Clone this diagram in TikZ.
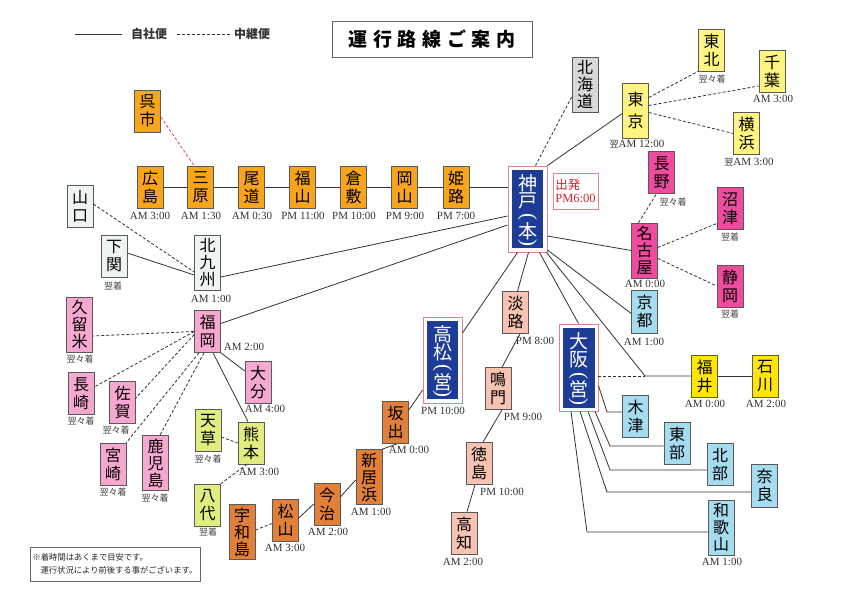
\documentclass[tikz,border=0pt]{standalone}
\usepackage{fontspec}
\usepackage{graphicx}
\setmainfont{Liberation Serif}
\newfontfamily\jp{Noto Sans CJK JP}
\newfontfamily\jpt{Noto Sans CJK JP}[LetterSpace=30]
\usetikzlibrary{calc}
\definecolor{cOr}{HTML}{F8A51C}
\definecolor{cSk}{HTML}{E2803A}
\definecolor{cSa}{HTML}{F7C4B3}
\definecolor{cPk}{HTML}{F7A8D0}
\definecolor{cYg}{HTML}{E3EC7E}
\definecolor{cYl}{HTML}{FDF57F}
\definecolor{cMg}{HTML}{EE4C9E}
\definecolor{cBl}{HTML}{A6DCEF}
\definecolor{cFy}{HTML}{FFE600}
\definecolor{cGr}{HTML}{D8D8D8}
\definecolor{cLt}{HTML}{EEF3F4}
\definecolor{cNv}{HTML}{1D3C96}
\definecolor{cKb}{HTML}{D9868F}
\definecolor{cRd}{HTML}{D0232B}
\newcommand{\vopen}{\rotatebox[origin=c]{-90}{(}}
\newcommand{\vclose}{\rotatebox[origin=c]{-90}{)}}
\newcommand{\yoku}{{\jp\fontsize{9}{9}\selectfont 翌}}
\newcommand{\officetext}[3]{%
  \node[kt] (#1-a) at ($(#1)+(0,-26)$) {#2};
  \node[kt] (#1-b) at ($(#1)+(0,-8)$) {#3};
  \node[kp] (#1-c) at ($(#1)+(0,8)$) {\vopen};
  \node[kt] (#1-d) at ($(#1)+(0,22)$) {#3@};
}
\begin{document}
\begin{tikzpicture}[x=1pt,y=-1pt,
  stn/.style={draw=black!65, line width=0.6pt, minimum width=26pt, minimum height=42pt, inner sep=0pt, align=center, font=\jp\fontsize{16}{18}\selectfont},
  st3/.style={stn, minimum height=55pt, font=\jp\fontsize{16}{17}\selectfont},
  tm/.style={font=\fontsize{11}{11}\selectfont, text=black!80, inner sep=0pt},
  ar/.style={font=\jp\fontsize{9}{9}\selectfont, text=black!75, inner sep=0pt},
  own/.style={draw=black!80, line width=0.8pt},
  relay/.style={own, dash pattern=on 3pt off 2pt},
  kbo/.style={draw=cKb, fill=white, line width=0.9pt, minimum width=39pt, minimum height=86pt, inner sep=0pt},
  kbi/.style={fill=cNv, minimum width=31pt, minimum height=78pt, inner sep=0pt},
  kt/.style={text=white, inner sep=0pt, font=\jp\fontsize{19}{19}\selectfont},
  kp/.style={text=white, inner sep=0pt, font=\fontsize{21}{21}\selectfont}
]
\useasboundingbox (0,0) rectangle (843,596);
\fill[white] (0,0) rectangle (843,596);

% legend and title
\coordinate (la) at (75,34); \coordinate (lb) at (122,34);
\coordinate (lc) at (177,34); \coordinate (ld) at (230,34);
\draw[own] (la) -- (lb);
\draw[relay] (lc) -- (ld);
\node[font=\jp\bfseries\fontsize{12}{12}\selectfont, text=black!80, inner sep=0pt] (lgo) at (149,34) {自社便};
\node[font=\jp\bfseries\fontsize{12}{12}\selectfont, text=black!80, inner sep=0pt] (lgr) at (252,34) {中継便};
\node[draw=black!60, line width=0.8pt, minimum width=200pt, minimum height=36pt, inner sep=0pt, font=\jpt\bfseries\fontsize{19}{19}\selectfont] (title) at (432,39) {運行路線ご案内};

% Kobe
\node[kbo] (kobe) at (527.5,209) {};
\node[kbi] (kobein) at (kobe) {};
\node[kt] (kobe-a) at ($(kobe)+(0,-26)$) {神};
\node[kt] (kobe-b) at ($(kobe)+(0,-8)$) {戸};
\node[kp] (kobe-c) at ($(kobe)+(0,9)$) {\vopen};
\node[kt] (kobe-d) at ($(kobe)+(0,22)$) {本};
\node[kp] (kobe-e) at ($(kobe)+(0,35)$) {\vclose};
\node[draw=cKb, line width=0.7pt, minimum width=45pt, minimum height=36pt, inner sep=2pt, align=left, text=cRd, font=\fontsize{12.5}{13}\selectfont] (dep) at (575.5,191) {{\jp 出発}\\PM6:00};

% Chugoku
\node[stn, fill=cOr] (hiroshima) at (150,187.5) {広\\島};
\node[stn, fill=cOr] (mihara) at (200.5,187.5) {三\\原};
\node[stn, fill=cOr] (onomichi) at (251.5,187.5) {尾\\道};
\node[stn, fill=cOr] (fukuyama) at (302.5,187.5) {福\\山};
\node[stn, fill=cOr] (kurashiki) at (353.5,187.5) {倉\\敷};
\node[stn, fill=cOr] (okayama) at (404.5,187.5) {岡\\山};
\node[stn, fill=cOr] (himeji) at (456,187.5) {姫\\路};
\node[stn, fill=cOr] (kure) at (147.5,111) {呉\\市};
\node[tm] (thiroshima) at (150,216) {AM 3:00};
\node[tm] (tmihara) at (201,216) {AM 1:30};
\node[tm] (tonomichi) at (252,216) {AM 0:30};
\node[tm] (tfukuyama) at (303,216) {PM 11:00};
\node[tm] (tkurashiki) at (354,216) {PM 10:00};
\node[tm] (tokayama) at (405,216) {PM 9:00};
\node[tm] (thimeji) at (456,216) {PM 7:00};

% East
\node[st3, fill=cGr] (hokkaido) at (585,85) {北\\海\\道};
\node[stn, fill=cYl, minimum height=55pt, font=\jp\fontsize{16}{22}\selectfont] (tokyo) at (635.5,110.5) {東\\京};
\node[stn, fill=cYl] (tohoku) at (711.5,50) {東\\北};
\node[stn, fill=cYl] (chiba) at (772,71.5) {千\\葉};
\node[stn, fill=cYl] (yokohama) at (746.5,133.5) {横\\浜};
\node[tm] (ttokyo) at (637,144) {\yoku AM 12:00};
\node[ar] (ttohoku) at (712,79) {翌々着};
\node[tm] (tchiba) at (773,99) {AM 3:00};
\node[tm] (tyokohama) at (749,162) {\yoku AM 3:00};

\node[stn, fill=cMg] (nagano) at (661.5,172.5) {長\\野};
\node[st3, fill=cMg] (nagoya) at (644.5,250.5) {名\\古\\屋};
\node[stn, fill=cMg] (numazu) at (730,208.5) {沼\\津};
\node[stn, fill=cMg] (shizuoka) at (730,286) {静\\岡};
\node[ar] (tnagano) at (673,202) {翌々着};
\node[tm] (tnagoya) at (645,284) {AM 0:00};
\node[ar] (tnumazu) at (730,237) {翌着};
\node[ar] (tshizuoka) at (730,314) {翌着};

\node[stn, fill=cBl, minimum height=43pt] (kyoto) at (644.5,311.5) {京\\都};
\node[tm] (tkyoto) at (644,342) {AM 1:00};

% Osaka
\node[kbo, minimum height=87pt] (osaka) at (578.5,367.5) {};
\node[kbi, minimum width=32pt, minimum height=80pt] (osakain) at (osaka) {};
\node[kt] (osaka-a) at ($(osaka)+(0,-26)$) {大};
\node[kt] (osaka-b) at ($(osaka)+(0,-8)$) {阪};
\node[kp] (osaka-c) at ($(osaka)+(0,9)$) {\vopen};
\node[kt] (osaka-d) at ($(osaka)+(0,22)$) {営};
\node[kp] (osaka-e) at ($(osaka)+(0,35)$) {\vclose};
\node[stn, fill=cFy] (fukui) at (704.5,376) {福\\井};
\node[stn, fill=cFy] (ishikawa) at (765,376) {石\\川};
\node[tm] (tfukui) at (705,404) {AM 0:00};
\node[tm] (tishikawa) at (766,404) {AM 2:00};
\node[stn, fill=cBl] (kizu) at (635.5,416) {木\\津};
\node[stn, fill=cBl] (tobu) at (677,443.5) {東\\部};
\node[stn, fill=cBl] (hokubu) at (720,464.5) {北\\部};
\node[stn, fill=cBl, minimum height=43pt] (nara) at (764.5,485.5) {奈\\良};
\node[st3, fill=cBl] (wakayama) at (721,527.5) {和\\歌\\山};
\node[tm] (twakayama) at (722,562) {AM 1:00};

% Awaji / Tokushima
\node[stn, fill=cSa] (awaji) at (515.5,312.5) {淡\\路};
\node[stn, fill=cSa] (naruto) at (498,388.5) {鳴\\門};
\node[stn, fill=cSa] (tokushima) at (479,463.5) {徳\\島};
\node[stn, fill=cSa] (kochi) at (464,533) {高\\知};
\node[tm] (tawaji) at (535,341) {PM 8:00};
\node[tm] (tnaruto) at (523,417) {PM 9:00};
\node[tm] (ttokushima) at (502,492) {PM 10:00};
\node[tm] (tkochi) at (463,562) {AM 2:00};

% Shikoku
\node[kbo] (takamatsu) at (442.5,360) {};
\node[kbi] (takamatsuin) at (takamatsu) {};
\node[kt] (takamatsu-a) at ($(takamatsu)+(0,-26)$) {高};
\node[kt] (takamatsu-b) at ($(takamatsu)+(0,-8)$) {松};
\node[kp] (takamatsu-c) at ($(takamatsu)+(0,9)$) {\vopen};
\node[kt] (takamatsu-d) at ($(takamatsu)+(0,22)$) {営};
\node[kp] (takamatsu-e) at ($(takamatsu)+(0,35)$) {\vclose};
\node[tm] (ttakamatsu) at (443,411) {PM 10:00};
\node[stn, fill=cSk] (sakaide) at (395.5,422.5) {坂\\出};
\node[st3, fill=cSk] (niihama) at (369,477) {新\\居\\浜};
\node[stn, fill=cSk] (imabari) at (327,504) {今\\治};
\node[stn, fill=cSk] (matsuyama) at (285.5,520.5) {松\\山};
\node[st3, fill=cSk] (uwajima) at (242,532) {宇\\和\\島};
\node[tm] (tsakaide) at (409,450) {AM 0:00};
\node[tm] (tniihama) at (371,512) {AM 1:00};
\node[tm] (timabari) at (328,532) {AM 2:00};
\node[tm] (tmatsuyama) at (285,548) {AM 3:00};

% Kyushu
\node[st3, fill=cLt] (kitakyu) at (207.5,263) {北\\九\\州};
\node[stn, fill=cLt] (yamaguchi) at (80,206.5) {山\\口};
\node[stn, fill=cLt] (shimonoseki) at (114,256) {下\\関};
\node[tm] (tkitakyu) at (211,299) {AM 1:00};
\node[ar] (tshimonoseki) at (113,286) {翌着};
\node[stn, fill=cPk] (fukuoka) at (207.5,331.5) {福\\岡};
\node[st3, fill=cPk] (kurume) at (79.5,324.5) {久\\留\\米};
\node[stn, fill=cPk] (nagasaki) at (81,393.5) {長\\崎};
\node[stn, fill=cPk] (saga) at (122.5,402.5) {佐\\賀};
\node[stn, fill=cPk] (miyazaki) at (113,464) {宮\\崎};
\node[st3, fill=cPk] (kagoshima) at (155.5,463) {鹿\\児\\島};
\node[stn, fill=cPk] (oita) at (258,382) {大\\分};
\node[stn, fill=cYg] (kumamoto) at (251,443) {熊\\本};
\node[stn, fill=cYg] (amakusa) at (208,430) {天\\草};
\node[stn, fill=cYg] (yatsushiro) at (207.5,505) {八\\代};
\node[tm] (tfukuoka) at (244,347) {AM 2:00};
\node[ar] (tkurume) at (80,359) {翌々着};
\node[ar] (tnagasaki) at (81,421) {翌々着};
\node[ar] (tsaga) at (116,430) {翌々着};
\node[ar] (tmiyazaki) at (113,492) {翌々着};
\node[ar] (tkagoshima) at (155,498) {翌々着};
\node[tm] (toita) at (265,409) {AM 4:00};
\node[tm] (tkumamoto) at (259,472) {AM 3:00};
\node[ar] (tamakusa) at (208,459) {翌々着};
\node[ar] (tyatsushiro) at (208,532) {翌着};

% note
\node[draw=black!60, line width=0.7pt, minimum width=170pt, minimum height=34pt, inner sep=2pt, align=left, text=black!85, font=\jp\fontsize{8.3}{13}\selectfont] (note) at (115,564) {※着時間はあくまで目安です。\\\hspace*{8pt}運行状況により前後する事がございます。};

% ---------- connectors ----------
\draw[own] (hiroshima) -- (mihara);
\draw[own] (mihara) -- (onomichi);
\draw[own] (onomichi) -- (fukuyama);
\draw[own] (fukuyama) -- (kurashiki);
\draw[own] (kurashiki) -- (okayama);
\draw[own] (okayama) -- (himeji);
\draw[own] (himeji.east) -- (himeji.east -| kobe.west);
\draw[relay, draw=cRd!80] ([yshift=-6pt]kure.east) -- ([xshift=-6pt]mihara.north);

\draw[relay] ([yshift=-12pt]hokkaido.west) -- ([xshift=8pt]kobe.north);
\draw[own] (kobe.north east) -- ([yshift=-3pt]tokyo.west);
\draw[own] ([yshift=-27pt]kobe.east) -- (nagoya.west);
\draw[own] ([yshift=-41pt]kobe.east) -- ([yshift=-2pt]kyoto.west);
\coordinate (J) at (645,376);
\draw[own] ([xshift=-1pt]kobe.south east) -- (J) -- (fukui.west);
\draw[own] ([xshift=12pt]kobe.south) -- (osaka.north);
\draw[own] ([xshift=1pt]kobe.south) -- ([xshift=2pt]awaji.north);
\draw[own] ([xshift=-10pt]kobe.south) -- ([yshift=27pt]takamatsu.east);
\draw[own] ([yshift=-7pt]kobe.west) -- ([yshift=-14pt]kitakyu.east);
\draw[own] ([yshift=-16pt]kobe.west) -- ([yshift=8pt]fukuoka.east);

\draw[relay] ([yshift=13pt]tokyo.east) -- (tohoku.south west);
\draw[relay] ([yshift=5pt]tokyo.east) -- ([yshift=-14.5pt]chiba.west);
\draw[relay] ([yshift=-2pt]tokyo.east) -- (yokohama.west);
\draw[relay] ([xshift=-6pt]nagoya.north) -- ([xshift=-5pt]nagano.south);
\draw[relay] ([yshift=3pt]nagoya.east) -- ([yshift=-15pt]numazu.west);
\draw[relay] ([yshift=-8pt]nagoya.east) -- (shizuoka.west);

\draw[relay] ([yshift=-8.5pt]osaka.east) -- (J);
\draw[own] (fukui) -- (ishikawa);
\coordinate (bkizu) at (607,412);
\coordinate (btobu) at (610,446);
\coordinate (bhokubu) at (610,470);
\coordinate (bnara) at (607,492);
\coordinate (bwaka) at (587,532);
\draw[own] ([yshift=-18pt]osaka.east) -- (bkizu) -- (bkizu -| kizu.west);
\draw[own] ([xshift=16.5pt]osaka.south) -- (btobu) -- (btobu -| tobu.west);
\draw[own] ([xshift=9.5pt]osaka.south) -- (bhokubu) -- (bhokubu -| hokubu.west);
\draw[own] ([xshift=1.5pt]osaka.south) -- (bnara) -- (bnara -| nara.west);
\draw[own] ([xshift=-7.5pt]osaka.south) -- (bwaka) -- (bwaka -| wakayama.west);

\draw[own] ([xshift=4.5pt]awaji.south) -- ([xshift=4pt]naruto.north);
\draw[own] ([xshift=4pt]naruto.south) -- ([xshift=4pt]tokushima.north);
\draw[own] ([xshift=-4pt]tokushima.south) -- ([xshift=3pt]kochi.north);

\draw[own] ([yshift=-30pt]takamatsu.west) -- ([yshift=12.5pt]sakaide.east);
\draw[own] ([xshift=1.5pt]sakaide.south) -- (niihama.north east);
\draw[own] ([yshift=-3pt]niihama.west) -- ([yshift=7pt]imabari.east);
\draw[own] (imabari.west) -- ([yshift=2.5pt]matsuyama.east);
\draw[relay] ([yshift=-3pt]matsuyama.west) -- ([yshift=2pt]uwajima.east);

\draw[own] ([yshift=3pt]shimonoseki.east) -- ([yshift=-12pt]kitakyu.west);
\draw[relay] ([yshift=2.5pt]yamaguchi.east) -- ([yshift=-9pt]kitakyu.west);
\draw[own] (fukuoka.south east) -- ([yshift=11pt]oita.west);
\draw[own] ([xshift=5.5pt]fukuoka.south) -- ([xshift=-3pt]kumamoto.north);
\draw[relay] (fukuoka.west) -- ([yshift=-11.5pt]kurume.east);
\draw[relay] (fukuoka.west) -- ([yshift=6.5pt]nagasaki.east);
\draw[relay] ([yshift=-3pt]fukuoka.west) -- ([yshift=4.5pt]saga.east);
\draw[relay] ([xshift=-8.5pt]fukuoka.south) -- (miyazaki.north east);
\draw[relay] ([xshift=-3.5pt]fukuoka.south) -- ([xshift=4.5pt]kagoshima.north);
\draw[relay] ([yshift=-7pt]amakusa.east) -- (kumamoto.west);
\draw[relay] ([xshift=-4pt]kumamoto.south) -- (yatsushiro.north east);
\end{tikzpicture}
\end{document}
